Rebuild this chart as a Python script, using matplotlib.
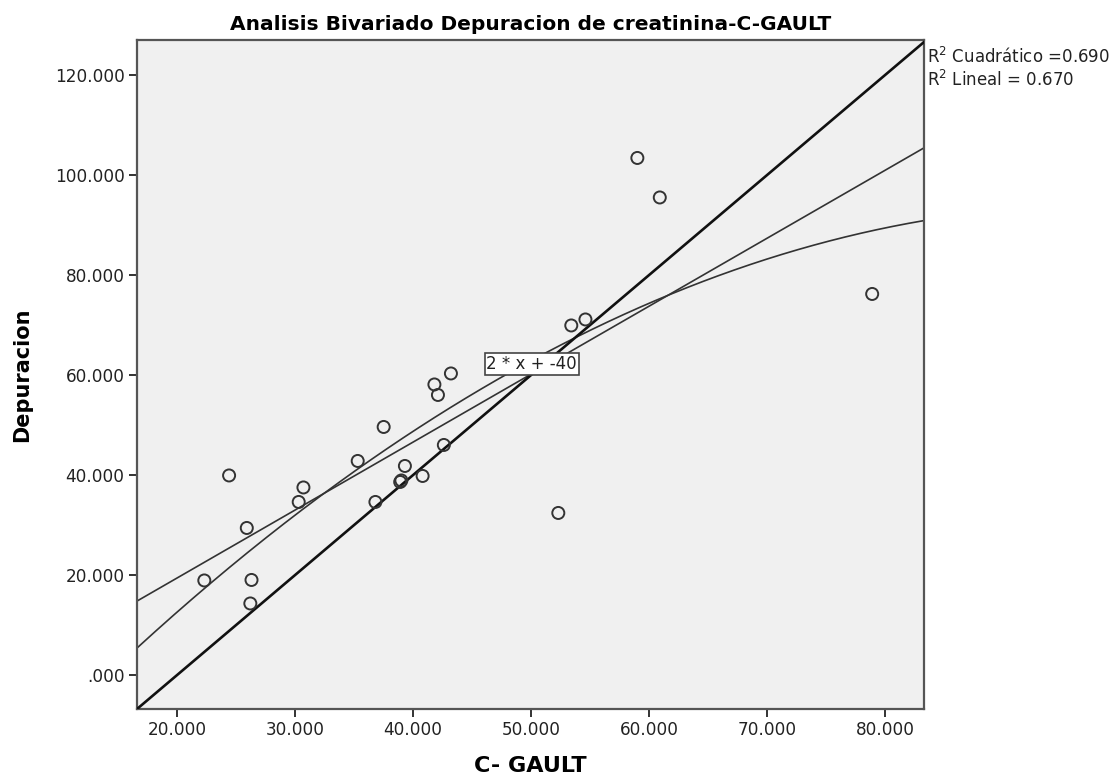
import numpy as np
import matplotlib
matplotlib.use("Agg")
import matplotlib.pyplot as plt
from matplotlib.ticker import FuncFormatter

# C-Gault estimate vs measured creatinine clearance
c_gault = [24.4, 22.3, 26.3, 26.2, 25.9, 30.3, 30.7, 35.3, 37.5, 36.8,
           38.9, 39.0, 39.3, 40.8, 42.6, 41.8, 42.1, 43.2, 52.3, 59.0,
           60.9, 53.4, 54.6, 78.9]
depuracion = [39.9, 18.9, 19.0, 14.3, 29.4, 34.6, 37.5, 42.8, 49.6, 34.6,
              38.6, 38.9, 41.8, 39.8, 46.0, 58.1, 56.0, 60.3, 32.4, 103.4,
              95.5, 69.9, 71.1, 76.2]

x_ticks = [20, 30, 40, 50, 60, 70, 80]
y_ticks = [0, 20, 40, 60, 80, 100, 120]
x_range = (16.6, 83.3)
y_range = (-6.8, 127.0)

ref_slope, ref_intercept = 2, -40
r2_quad, r2_lin = 0.690, 0.670

plt.rcParams["font.family"] = ["DejaVu Sans"]

fig = plt.figure(figsize=(11.17, 7.82), dpi=100)
ax = fig.add_axes([0.1227, 0.0934, 0.7046, 0.8555])
ax.set_facecolor("#f0f0f0")

x = np.asarray(c_gault)
y = np.asarray(depuracion)
xs = np.linspace(*x_range, 300)

# least-squares fits
lin = np.polyfit(x, y, 1)
quad = np.polyfit(x, y, 2)
ax.plot(xs, np.polyval(lin, xs), color="#333333", lw=1.2, zorder=2)
ax.plot(xs, np.polyval(quad, xs), color="#333333", lw=1.2, zorder=2)

# reference line
ax.plot(xs, ref_slope * xs + ref_intercept, color="#111111", lw=1.9, zorder=3)

ax.scatter(x, y, s=75, facecolors="none", edgecolors="#333333",
           linewidths=1.4, zorder=4)

ax.text(46.2, 62.2, f"{ref_slope} * x + {ref_intercept}", fontsize=12,
        ha="left", va="center", color="#222222", zorder=5,
        bbox=dict(boxstyle="square,pad=0.1", facecolor="white",
                  edgecolor="#444444", lw=1.2))

ax.set_xlim(*x_range)
ax.set_ylim(*y_range)
ax.set_xticks(x_ticks)
ax.set_yticks(y_ticks)


def fmt(v, _pos):
    s = f"{v:.3f}"
    return s[1:] if s.startswith("0") else s


ax.xaxis.set_major_formatter(FuncFormatter(fmt))
ax.yaxis.set_major_formatter(FuncFormatter(fmt))
ax.tick_params(axis="both", direction="out", length=6, width=1.4,
               color="#333333", labelsize=12.2, labelcolor="#222222", pad=3)
for sp in ax.spines.values():
    sp.set_color("#555555")
    sp.set_linewidth(1.6)

ax.set_title("Analisis Bivariado Depuracion de creatinina-C-GAULT",
             fontsize=14.5, fontweight="bold", pad=7)
ax.set_xlabel("C- GAULT", fontsize=16, fontweight="bold", labelpad=12)
ax.set_ylabel("Depuracion", fontsize=15, fontweight="bold", labelpad=16)

fig.text(0.8296, 1 - 57 / 782, f"R$^2$ Cuadrático ={r2_quad:.3f}",
         fontsize=12, ha="left", va="center", color="#222222")
fig.text(0.8296, 1 - 80 / 782, f"R$^2$ Lineal = {r2_lin:.3f}",
         fontsize=12, ha="left", va="center", color="#222222")

fig.savefig("out.png", dpi=100)
